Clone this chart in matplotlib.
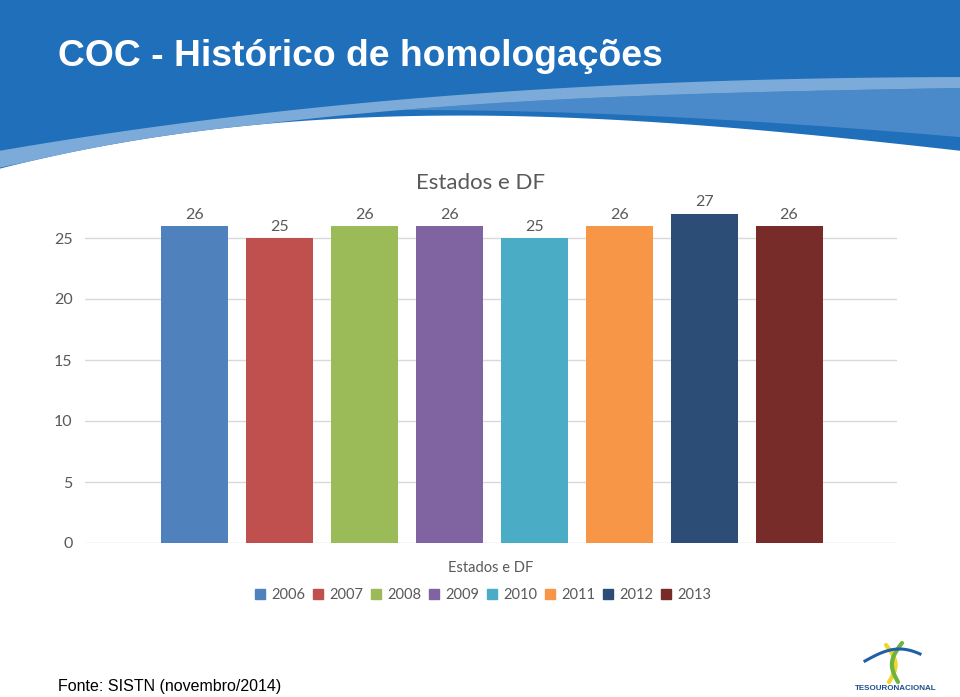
"""COC - Histórico de homologações: Estados e DF bar chart."""
import matplotlib
matplotlib.use('Agg')
import matplotlib.pyplot as plt
from matplotlib.patches import Polygon, Rectangle
import numpy as np

# data
years = ['2006', '2007', '2008', '2009', '2010', '2011', '2012', '2013']
values = [26, 25, 26, 26, 25, 26, 27, 26]
colors = ['#4F81BD', '#C0504D', '#9BBB59', '#8064A2',
          '#4BACC6', '#F79646', '#2C4D75', '#772C2A']
yticks = [0, 5, 10, 15, 20, 25]

W, H = 960, 697
fig = plt.figure(figsize=(W / 100, H / 100), dpi=100)
fig.patch.set_facecolor('white')

# background layer in pixel coordinates
bg = fig.add_axes([0, 0, 1, 1], zorder=0)
bg.set_xlim(0, W)
bg.set_ylim(H, 0)
bg.set_axis_off()


def curve(pts, xs):
    px, py = zip(*pts)
    return np.polyval(np.polyfit(px, py, 3), xs)


xs = np.linspace(0, W, 200)
white_top = curve([(0, 167), (150, 142), (320, 118), (480, 113), (640, 123), (800, 135), (960, 150)], xs)
band_up = curve([(0, 150), (150, 130), (320, 104), (480, 95), (640, 84), (960, 77)], xs)
band_lo = curve([(0, 167), (150, 142), (320, 114), (480, 107), (640, 95), (960, 88)], xs)
band_lo = np.minimum(band_lo, white_top)
mid_lo = curve([(380, 110), (480, 111), (640, 115), (800, 125), (960, 137)], xs)
mid_lo = np.clip(mid_lo, band_lo, white_top)

dark = np.column_stack([np.r_[xs, W, 0], np.r_[white_top, 0, 0]])
bg.add_patch(Polygon(dark, closed=True, facecolor='#1F6FBA', edgecolor='none'))
msk = xs >= 360
mid = np.column_stack([np.r_[xs[msk], xs[msk][::-1]], np.r_[band_lo[msk], mid_lo[msk][::-1]]])
bg.add_patch(Polygon(mid, closed=True, facecolor='#4A8ACA', edgecolor='none'))
band = np.column_stack([np.r_[xs, xs[::-1]], np.r_[band_up, band_lo[::-1]]])
bg.add_patch(Polygon(band, closed=True, facecolor='#7DABD9', edgecolor='none'))

bg.text(58, 56, 'COC - Histórico de homologações', color='white', fontsize=26.8,
        fontweight='bold', family='Liberation Sans', va='center', ha='left')
bg.text(58, 686, 'Fonte: SISTN (novembro/2014)', color='black', fontsize=11.5,
        family='Liberation Sans', va='center', ha='left')

# simple logo sketch
t = np.linspace(0, 1, 50)
bg.plot(886 + 3 * t + 8 * np.sin(np.pi * t), 645 + 37 * t, color='#F2D42A', lw=3,
        solid_capstyle='round')
bg.plot(902 - 4 * t - 8 * np.sin(np.pi * t), 643 + 39 * t, color='#6DB33F', lw=3,
        solid_capstyle='round')
bg.plot(865 + 55 * t, 661 - 12 * np.sin(np.pi * t * 0.8), color='#1F5FA8', lw=2.2)
bg.text(896, 689, 'TESOURONACIONAL', color='#1F4E8C', fontsize=5.8, fontweight='bold',
        family='Liberation Sans', ha='center', va='center')

# chart
font = 'Lato'
gray = '#595959'
ax = fig.add_axes([85 / W, 1 - 543 / H, (897 - 85) / W, (543 - 201.4) / H], zorder=1)
ax.patch.set_alpha(0)
x = np.arange(len(values))
ax.bar(x, values, width=0.79, color=colors, zorder=3)
for xi, v in zip(x, values):
    ax.annotate(str(v), (xi, v), xytext=(0, 3), textcoords='offset points',
                ha='center', va='bottom', fontsize=11.5, color=gray, family=font)
ax.set_xlim(-1.285, 8.27)
ax.set_ylim(0, 28)
ax.set_yticks(yticks)
ax.set_yticklabels([str(v) for v in yticks], fontsize=11.5, color=gray, family=font)
ax.set_xticks([])
for v in yticks:
    ax.axhline(v, color='#D9D9D9', lw=1, zorder=1)
for s in ax.spines.values():
    s.set_visible(False)
ax.tick_params(axis='y', length=0, pad=9)
ax.set_xlabel('Estados e DF', fontsize=10.5, color=gray, family=font, labelpad=13)

fig.text(480 / W, 1 - 183 / H, 'Estados e DF', fontsize=16, color=gray, family=font,
         ha='center', va='center')

handles = [Rectangle((0, 0), 1, 1, color=c) for c in colors]
fig.legend(handles, years, loc='center', bbox_to_anchor=(483 / W, 1 - 595 / H), ncol=8,
           frameon=False, handlelength=0.7, handleheight=0.7, handletextpad=0.4,
           columnspacing=0.55, prop={'family': font, 'size': 10.5}, labelcolor=gray)

fig.savefig('out.png', dpi=100)
